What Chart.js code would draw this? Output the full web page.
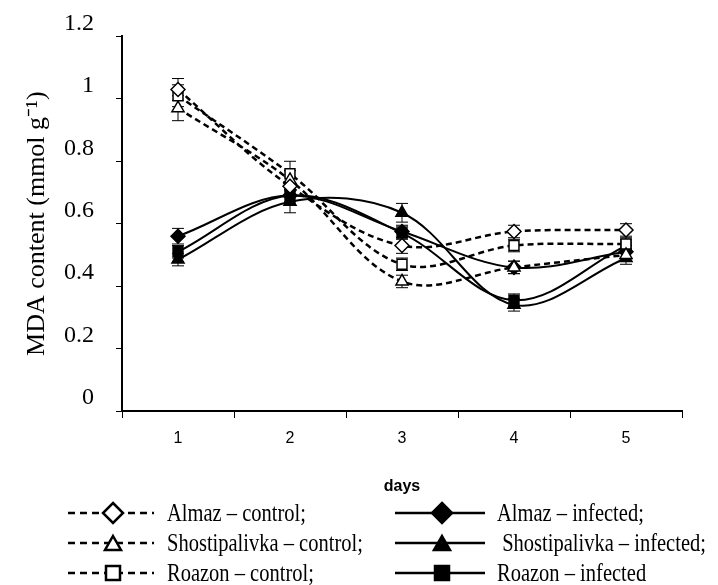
<!DOCTYPE html>
<html>
<head>
<meta charset="utf-8">
<script src="https://cdn.jsdelivr.net/npm/chart.js@4"></script>
<style>
  body { margin: 0; background: #fff; }
  #wrap { position: relative; width: 718px; height: 585px; }
  .leg { position: absolute; height: 24px; }
  .leg svg { position: absolute; top: 0; left: 0; }
  .leg span { position: absolute; top: -3px; white-space: pre; transform: scaleX(0.82); transform-origin: left center;
              font-family: "Liberation Serif", "Times New Roman", serif; font-size: 25px; color: #000; line-height: 30px; }
</style>
</head>
<body>
<div id="wrap">
  <canvas id="mda"></canvas>
</div>
<script>
const days = ["1", "2", "3", "4", "5"];

// MDA content, mmol g-1
const almazControl = [1.03, 0.72, 0.53, 0.575, 0.58];
const shostControl = [0.97, 0.74, 0.415, 0.46, 0.50];
const roazonControl = [1.01, 0.76, 0.47, 0.53, 0.535];
const almazInfected = [0.56, 0.69, 0.575, 0.46, 0.51];
const shostInfected = [0.485, 0.67, 0.635, 0.34, 0.49];
const roazonInfected = [0.51, 0.69, 0.57, 0.355, 0.53];

// error bars (+/-)
const almazControlErr = [0.035, 0.03, 0.025, 0.02, 0.02];
const shostControlErr = [0.04, 0.03, 0.02, 0.02, 0.02];
const roazonControlErr = [0.035, 0.04, 0.02, 0.02, 0.02];
const almazInfectedErr = [0.025, 0.02, 0.02, 0.02, 0.02];
const shostInfectedErr = [0.02, 0.035, 0.03, 0.02, 0.02];
const roazonInfectedErr = [0.02, 0.02, 0.02, 0.02, 0.02];

const yTicks = ["0", "0.2", "0.4", "0.6", "0.8", "1", "1.2"];

const series = [
  { label: "Almaz \u2013 control;", data: almazControl, err: almazControlErr, shape: "rectRot", control: true },
  { label: "Shostipalivka \u2013 control;", data: shostControl, err: shostControlErr, shape: "triangle", control: true },
  { label: "Roazon \u2013 control;", data: roazonControl, err: roazonControlErr, shape: "rect", control: true },
  { label: "Almaz \u2013 infected;", data: almazInfected, err: almazInfectedErr, shape: "rectRot", control: false },
  { label: " Shostipalivka \u2013 infected;", data: shostInfected, err: shostInfectedErr, shape: "triangle", control: false },
  { label: "Roazon \u2013 infected", data: roazonInfected, err: roazonInfectedErr, shape: "rect", control: false }
];

const radius = { rectRot: 7, triangle: 7, rect: 7 };

const errorBars = {
  id: "errorBars",
  beforeDatasetsDraw(chart) {
    const ctx = chart.ctx;
    const y = chart.scales.y;
    ctx.save();
    ctx.strokeStyle = "#000";
    ctx.lineWidth = 1;
    chart.data.datasets.forEach((ds, i) => {
      const meta = chart.getDatasetMeta(i);
      meta.data.forEach((pt, j) => {
        const e = ds.errors[j];
        const top = y.getPixelForValue(ds.data[j] + e);
        const bot = y.getPixelForValue(ds.data[j] - e);
        ctx.beginPath();
        ctx.moveTo(pt.x, top);
        ctx.lineTo(pt.x, bot);
        ctx.moveTo(pt.x - 6, top);
        ctx.lineTo(pt.x + 6, top);
        ctx.moveTo(pt.x - 6, bot);
        ctx.lineTo(pt.x + 6, bot);
        ctx.stroke();
      });
    });
    ctx.restore();
  }
};

const ctx = document.getElementById("mda");

new Chart(ctx, {
  type: "line",
  data: {
    labels: days,
    datasets: series.map(s => ({
      label: s.label,
      data: s.data,
      errors: s.err,
      borderColor: "#000",
      borderWidth: s.control ? 2.5 : 2,
      borderDash: s.control ? [6, 4] : [],
      tension: 0.35,
      pointStyle: s.shape,
      pointRadius: radius[s.shape],
      pointBackgroundColor: s.control ? "#fff" : "#000",
      pointBorderColor: "#000",
      pointBorderWidth: 1.5
    }))
  },
  options: {
    responsive: true,
    maintainAspectRatio: false,
    animation: false,
    layout: {
      padding: { left: 22, top: 32, right: 36, bottom: 89 }
    },
    plugins: {
      legend: { display: false },
      tooltip: { enabled: false }
    },
    scales: {
      x: {
        type: "category",
        offset: true,
        afterFit: scale => { scale.height = 85; },
        grid: { offset: true, drawOnChartArea: false, tickLength: 7, color: "#000", lineWidth: 1 },
        border: { color: "#000", width: 2 },
        ticks: {
          color: "#000",
          padding: 11,
          font: { family: "Liberation Sans", size: 16 }
        },
        title: {
          display: true,
          text: "days",
          color: "#000",
          padding: 0,
          font: { family: "Liberation Sans", size: 16, weight: "bold" }
        }
      },
      y: {
        min: 0,
        max: 1.2,
        afterFit: scale => { scale.width = 100; },
        afterBuildTicks: scale => {
          scale.ticks = yTicks.map(t => ({ value: Number(t) }));
        },
        grid: { drawOnChartArea: false, tickLength: 6, color: "#000", lineWidth: 1 },
        border: { color: "#000", width: 2 },
        ticks: {
          color: "#000",
          padding: 22,
          labelOffset: -13,
          font: { family: "Liberation Serif", size: 24 },
          callback: (v, i) => yTicks[i]
        },
        title: {
          display: true,
          text: "MDA content (mmol g\u207B\u00B9)",
          color: "#000",
          padding: 0,
          font: { family: "Liberation Serif", size: 26 }
        }
      }
    }
  },
  plugins: [errorBars]
});

// legend built from the series list
const wrap = document.getElementById("wrap");
const rowY = [513, 543, 573];
function markerSvg(shape, cx, cy, filled) {
  const fill = filled ? "#000" : "#fff";
  if (shape === "rectRot") {
    return `<polygon points="${cx},${cy - 10} ${cx + 10},${cy} ${cx},${cy + 10} ${cx - 10},${cy}" fill="${fill}" stroke="#000" stroke-width="2.5"/>`;
  }
  if (shape === "triangle") {
    return `<polygon points="${cx},${cy - 7} ${cx + 8},${cy + 7} ${cx - 8},${cy + 7}" fill="${fill}" stroke="#000" stroke-width="2.5"/>`;
  }
  return `<rect x="${cx - 7}" y="${cy - 7}" width="14" height="14" fill="${fill}" stroke="#000" stroke-width="2.5"/>`;
}
series.forEach((s, i) => {
  const row = i % 3;
  const left = s.control ? 68 : 395;
  const lineW = s.control ? 86 : 90;
  const mx = s.control ? 45 : 47;
  const textLeft = s.control ? 167 : 497;
  const item = document.createElement("div");
  item.className = "leg";
  item.style.left = left + "px";
  item.style.top = (rowY[row] - 12) + "px";
  item.style.width = "330px";
  const dash = s.control ? 'stroke-dasharray="7 5"' : "";
  item.innerHTML =
    `<svg width="${lineW + 4}" height="24">` +
    `<line x1="0" y1="12" x2="${lineW}" y2="12" stroke="#000" stroke-width="2.5" ${dash}/>` +
    markerSvg(s.shape, mx, 12, !s.control) +
    `</svg><span style="left:${textLeft - left}px">${s.label}</span>`;
  wrap.appendChild(item);
});
</script>
</body>
</html>
